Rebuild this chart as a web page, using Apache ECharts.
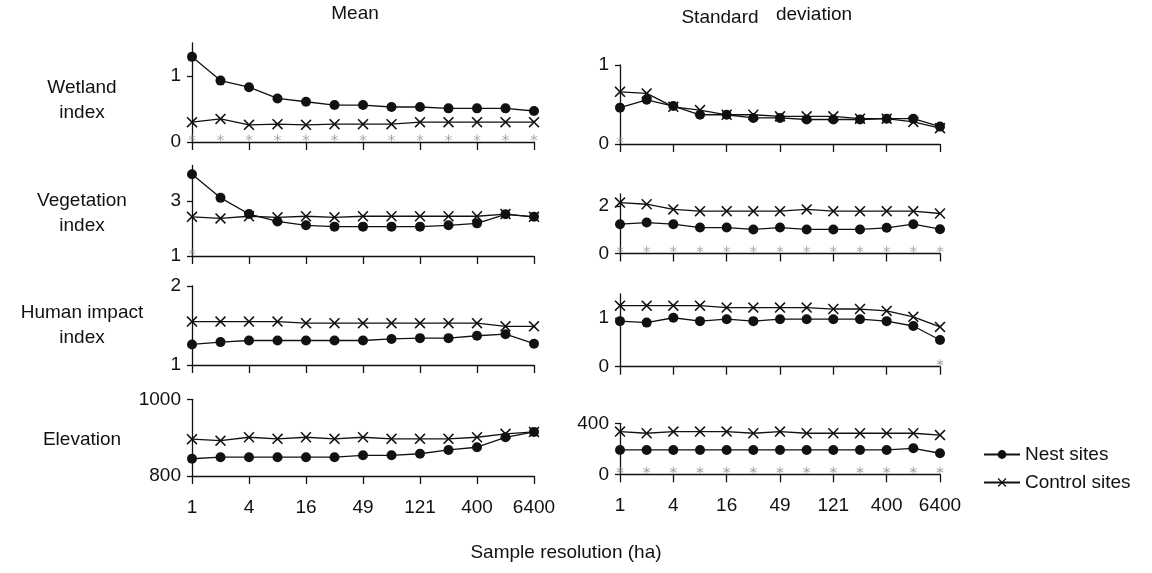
<!DOCTYPE html>
<html>
<head>
<meta charset="utf-8">
<script src="https://cdn.jsdelivr.net/npm/echarts@6/dist/echarts.min.js"></script>
<style>
html,body{margin:0;padding:0;background:#fff;}
#chart{width:1152px;height:573px;}
</style>
</head>
<body>
<div id="chart"></div>
<script>
// ---- data ----
const categories = ['1','2.25','4','9','16','25','49','81','121','196','400','1600','6400'];

const wetMeanNest = [1.29,0.93,0.83,0.66,0.61,0.56,0.56,0.53,0.53,0.51,0.51,0.51,0.47];
const wetMeanCtrl = [0.30,0.35,0.26,0.27,0.26,0.27,0.27,0.27,0.30,0.30,0.30,0.30,0.30];
const wetMeanSig  = [1,1,1,1,1,1,1,1,1,1,1,1,1];
const wetSdNest   = [0.46,0.56,0.48,0.37,0.37,0.33,0.33,0.31,0.31,0.31,0.32,0.32,0.22];
const wetSdCtrl   = [0.66,0.64,0.47,0.43,0.37,0.37,0.35,0.35,0.35,0.32,0.32,0.28,0.20];
const wetSdSig    = [1,0,0,0,0,0,0,0,0,0,0,0,0];

const vegMeanNest = [3.98,3.12,2.53,2.26,2.12,2.07,2.07,2.07,2.07,2.12,2.19,2.52,2.43];
const vegMeanCtrl = [2.43,2.37,2.45,2.41,2.45,2.41,2.45,2.45,2.45,2.45,2.45,2.53,2.43];
const vegMeanSig  = [1,0,0,0,0,0,0,0,0,0,0,0,0];
const vegSdNest   = [1.23,1.30,1.23,1.09,1.09,1.01,1.09,1.01,1.01,1.01,1.08,1.23,1.02];
const vegSdCtrl   = [2.14,2.07,1.85,1.78,1.78,1.78,1.78,1.85,1.78,1.78,1.78,1.78,1.68];
const vegSdSig    = [1,1,1,1,1,1,1,1,1,1,1,1,1];

const humMeanNest = [1.26,1.29,1.31,1.31,1.31,1.31,1.31,1.33,1.34,1.34,1.37,1.39,1.27];
const humMeanCtrl = [1.55,1.55,1.55,1.55,1.53,1.53,1.53,1.53,1.53,1.53,1.53,1.49,1.49];
const humMeanSig  = [0,0,0,0,0,0,0,0,0,0,0,0,0];
const humSdNest   = [0.94,0.91,1.01,0.94,0.98,0.94,0.98,0.98,0.98,0.98,0.94,0.84,0.55];
const humSdCtrl   = [1.26,1.26,1.26,1.26,1.22,1.22,1.22,1.22,1.19,1.19,1.15,1.03,0.82];
const humSdSig    = [0,0,0,0,0,0,0,0,0,0,0,0,1];

const elevMeanNest = [845,849,849,849,849,849,854,854,858,868,875,901,915];
const elevMeanCtrl = [896,892,901,897,901,897,901,897,897,897,901,910,915];
const elevMeanSig  = [0,0,0,0,0,0,0,0,0,0,0,0,0];
const elevSdNest   = [191,191,191,191,191,191,191,191,191,191,191,204,165];
const elevSdCtrl   = [335,322,335,335,335,322,335,322,322,322,322,322,308];
const elevSdSig    = [1,1,1,1,1,1,1,1,1,1,1,1,1];

const yTickLabels = {
  wetMean:[0,1], wetSd:[0,1], vegMean:[1,3], vegSd:[0,2],
  humMean:[1,2], humSd:[0,1], elevMean:[800,1000], elevSd:[0,400]
};
const rowLabels = ['Wetland\nindex','Vegetation\nindex','Human impact\nindex','Elevation'];

// ---- layout ----
const FONT = '"Liberation Sans", Arial, Helvetica, sans-serif';
const INK = '#111';
const colL = {left:192, width:342};
const colR = {left:620, width:320};
const panels = [
  {key:'wetMean', col:colL, top:43,    h:99,   min:0,   max:1.5,  nest:wetMeanNest,  ctrl:wetMeanCtrl,  sig:wetMeanSig,  bottom:false},
  {key:'wetSd',   col:colR, top:65,    h:79,   min:0,   max:1,    nest:wetSdNest,    ctrl:wetSdCtrl,    sig:wetSdSig,    bottom:false},
  {key:'vegMean', col:colL, top:165.5, h:90.5, min:1,   max:4.3,  nest:vegMeanNest,  ctrl:vegMeanCtrl,  sig:vegMeanSig,  bottom:false},
  {key:'vegSd',   col:colR, top:194,   h:59.5, min:0,   max:2.5,  nest:vegSdNest,    ctrl:vegSdCtrl,    sig:vegSdSig,    bottom:false},
  {key:'humMean', col:colL, top:286,   h:79,   min:1,   max:2,    nest:humMeanNest,  ctrl:humMeanCtrl,  sig:humMeanSig,  bottom:false},
  {key:'humSd',   col:colR, top:294,   h:72.7, min:0,   max:1.5,  nest:humSdNest,    ctrl:humSdCtrl,    sig:humSdSig,    bottom:false},
  {key:'elevMean',col:colL, top:399.3, h:76.7, min:800, max:1000, nest:elevMeanNest, ctrl:elevMeanCtrl, sig:elevMeanSig, bottom:true},
  {key:'elevSd',  col:colR, top:423.3, h:51,   min:0,   max:400,  nest:elevSdNest,   ctrl:elevSdCtrl,   sig:elevSdSig,   bottom:true}
];

const crossPath = 'path://M0,1 L1,0 L5,4 L9,0 L10,1 L6,5 L10,9 L9,10 L5,6 L1,10 L0,9 L4,5 Z';
const starPath = 'path://M4.4,0 L5.6,0 L5.6,10 L4.4,10 Z M0.97,1.98 L9.63,6.98 L9.03,8.02 L0.37,3.02 Z M0.37,6.98 L9.03,1.98 L9.63,3.02 L0.97,8.02 Z';

const grids = [], xAxes = [], yAxes = [], series = [];
panels.forEach((p, i) => {
  grids.push({left:p.col.left, width:p.col.width, top:p.top, height:p.h, containLabel:false});
  xAxes.push({
    type:'category', gridIndex:i, data:categories, boundaryGap:false,
    axisLine:{show:true, lineStyle:{color:INK, width:1.3}},
    axisTick:{show:true, interval:1, length:8, inside:false, lineStyle:{color:INK, width:1.3}},
    axisLabel:{show:p.bottom, interval:1, margin:22, color:INK, fontSize:19, fontFamily:FONT},
    splitLine:{show:false}
  });
  yAxes.push({
    type:'value', gridIndex:i, min:p.min, max:p.max,
    axisLine:{show:true, lineStyle:{color:INK, width:1.3}},
    axisTick:{show:true, length:5, customValues:yTickLabels[p.key], lineStyle:{color:INK, width:1.3}},
    axisLabel:{show:true, customValues:yTickLabels[p.key], margin:11, color:INK, fontSize:19, fontFamily:FONT,
               formatter:(v) => String(v)},
    splitLine:{show:false}
  });
  series.push({
    name:'Nest sites', type:'line', xAxisIndex:i, yAxisIndex:i, data:p.nest,
    symbol:'circle', symbolSize:10, showAllSymbol:true,
    lineStyle:{color:INK, width:1.3}, itemStyle:{color:INK}, z:3, silent:true, animation:false
  });
  series.push({
    name:'Control sites', type:'line', xAxisIndex:i, yAxisIndex:i, data:p.ctrl,
    symbol:crossPath, symbolSize:11, showAllSymbol:true,
    lineStyle:{color:INK, width:1.3}, itemStyle:{color:INK}, z:4, silent:true, animation:false
  });
  series.push({
    name:'sig', type:'scatter', xAxisIndex:i, yAxisIndex:i,
    data:p.sig.map((s) => s ? p.min : null),
    symbol:starPath, symbolSize:7, symbolOffset:[0,-4],
    itemStyle:{color:'#888'}, z:2, silent:true, animation:false
  });
});

const graphics = [
  {type:'text', x:355, y:14, style:{text:'Mean', font:'19px '+FONT, fill:INK, textAlign:'center', textVerticalAlign:'middle'}},
  {type:'text', x:720, y:27, style:{text:'Standard', font:'19px '+FONT, fill:INK, textAlign:'center', textVerticalAlign:'bottom'}},
  {type:'text', x:814, y:24, style:{text:'deviation', font:'19px '+FONT, fill:INK, textAlign:'center', textVerticalAlign:'bottom'}},
  {type:'text', x:566, y:553, style:{text:'Sample resolution (ha)', font:'19px '+FONT, fill:INK, textAlign:'center', textVerticalAlign:'middle'}}
];
const rowY = [100, 213, 325, 440];
rowLabels.forEach((t, k) => {
  graphics.push({type:'text', x:82, y:rowY[k], style:{text:t, font:'19px '+FONT, fill:INK, textAlign:'center', textVerticalAlign:'middle', lineHeight:25}});
});

const chart = echarts.init(document.getElementById('chart'), null, {renderer:'canvas'});
chart.setOption({
  animation:false,
  backgroundColor:'#fff',
  grid:grids, xAxis:xAxes, yAxis:yAxes, series:series,
  legend:{
    data:['Nest sites','Control sites'], orient:'vertical', left:978, top:440,
    itemWidth:36, itemHeight:11, itemGap:9,
    textStyle:{color:INK, fontSize:19, fontFamily:FONT}, selectedMode:false
  },
  graphic:graphics
});
</script>
</body>
</html>
